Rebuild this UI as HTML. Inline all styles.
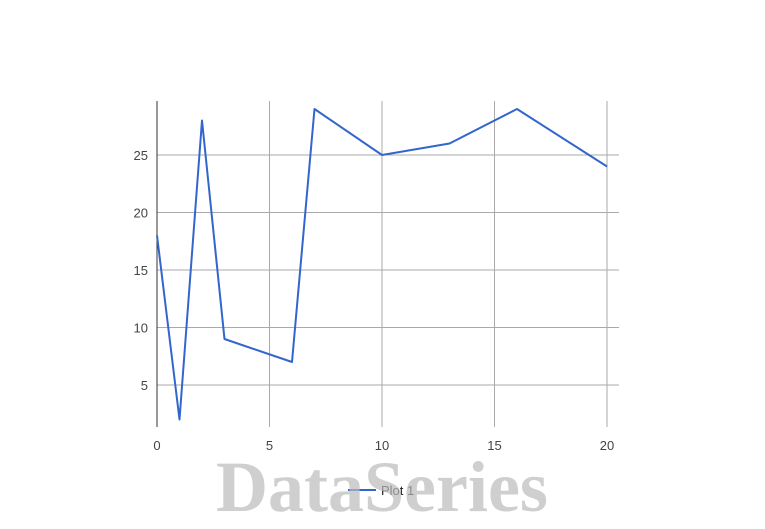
<!DOCTYPE html>
<html><head><meta charset="utf-8"><style>
html,body{margin:0;padding:0;background:#fff;width:765px;height:529px;overflow:hidden}
svg{display:block;font-family:"Liberation Sans",Arial,sans-serif}
</style></head><body>
<svg id="chart" width="765" height="529">
<g id="grid"></g>
<g id="axes"></g>
<g id="series"></g>
<g>
<line x1="348" y1="490" x2="376" y2="490" stroke="#3366cc" stroke-width="2"/>
<text x="381" y="495" font-size="13" fill="#222">Plot 1</text>
</g>
<text x="382" y="511" text-anchor="middle" font-family="'Liberation Serif',serif" font-weight="bold" font-size="72" fill="#bbb" fill-opacity="0.7">DataSeries</text>
</svg>
<script>
const xValues=[0,1,2,3,6,7,10,13,16,20];
const yValues=[18,2,28,9,7,29,25,26,29,24];
const xTicks=[0,5,10,15,20];
const yTicks=[5,10,15,20,25];
const NS="http://www.w3.org/2000/svg";
const L=157,R=607,T=101,B=427;
function sx(v){return L+(v-0)*(R-L)/20;}
function sy(v){return 442.5-v*11.5;}
function mk(tag,attrs,parent,text){const e=document.createElementNS(NS,tag);for(const k in attrs)e.setAttribute(k,attrs[k]);if(text!==undefined)e.textContent=text;parent.appendChild(e);return e;}
const grid=document.getElementById('grid'),axes=document.getElementById('axes'),series=document.getElementById('series');
xTicks.forEach(t=>{
  if(t!==0){const g=mk('line',{x1:sx(t),x2:sx(t),y1:T,y2:B,stroke:'#aaa','stroke-width':1},grid);
  
  }
  const l=mk('text',{x:sx(t),y:450,'text-anchor':'middle','font-size':13,fill:'#444'},axes,String(t));
  
  
});
yTicks.forEach(t=>{
  const g=mk('line',{x1:L,x2:619,y1:sy(t),y2:sy(t),stroke:'#aaa','stroke-width':1},grid);
  
  
  const l=mk('text',{x:148,y:sy(t)+5,'text-anchor':'end','font-size':13,fill:'#444'},axes,String(t));
  
  
});
const ax=mk('line',{x1:L,x2:L,y1:T,y2:B,stroke:'#333','stroke-width':1},axes);


const pts=xValues.map((x,i)=>sx(x)+','+sy(yValues[i])).join(' ');
const pl=mk('polyline',{points:pts,fill:'none',stroke:'#3366cc','stroke-width':2,'stroke-linejoin':'round'},series);


</script>
</body></html>
